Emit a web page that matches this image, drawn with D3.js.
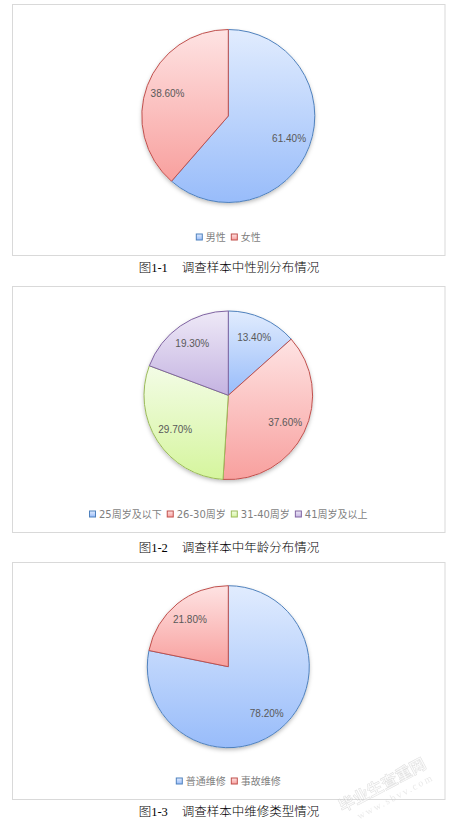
<!DOCTYPE html>
<html><head><meta charset="utf-8">
<script src="https://cdn.jsdelivr.net/npm/d3@7"></script>
<style>body{margin:0;background:#fff}svg{display:block}</style>
</head><body>
<svg id="c" width="454" height="825"></svg>
<script>
// ---- data ----
const genderCats = ["男性", "女性"];
const genderVals = [61.4, 38.6];
const ageCats = ["25周岁及以下", "26-30周岁", "31-40周岁", "41周岁及以上"];
const ageVals = [13.4, 37.6, 29.7, 19.3];
const repairCats = ["普通维修", "事故维修"];
const repairVals = [78.2, 21.8];
const captions = [
  ["1-1", "调查样本中性别分布情况"],
  ["1-2", "调查样本中年龄分布情况"],
  ["1-3", "调查样本中维修类型情况"]
];

const palette = [
  {top:"#e1ecfe", bot:"#98bcfa", stroke:"#4f81bd"},
  {top:"#fee3e3", bot:"#f8a09e", stroke:"#c0504d"},
  {top:"#f3fce6", bot:"#d5f59d", stroke:"#9bbb59"},
  {top:"#eee9f7", bot:"#c4b3e1", stroke:"#8064a2"}
];

const svg = d3.select("#c");
const defs = svg.append("defs");
palette.forEach((p,i)=>{
  const g = defs.append("linearGradient").attr("id","g"+i)
    .attr("x1",0).attr("y1",0).attr("x2",0).attr("y2",1);
  g.append("stop").attr("offset","0%").attr("stop-color",p.top);
  g.append("stop").attr("offset","100%").attr("stop-color",p.bot);
});
const f = defs.append("filter").attr("id","sh").attr("x","-20%").attr("y","-20%").attr("width","140%").attr("height","140%");
f.append("feDropShadow").attr("dx",0).attr("dy",2).attr("stdDeviation",2)
  .attr("flood-color","#000").attr("flood-opacity",0.28);

const charts = [
  {cats:genderCats, vals:genderVals, box:[12.5,4.5,432.5,251], cx:228.3, cy:116, r:86.5, ly:237.5, capY:268},
  {cats:ageCats, vals:ageVals, box:[12.5,286.5,432.5,246], cx:228.3, cy:395.3, r:84.3, ly:514.5, capY:548},
  {cats:repairCats, vals:repairVals, box:[12.5,562.5,432.5,237], cx:228.3, cy:666.7, r:81, ly:781.5, capY:811.5}
];

const pie = d3.pie().sort(null).value(d=>d);

charts.forEach((c,ci)=>{
  svg.append("rect").attr("x",c.box[0]).attr("y",c.box[1]).attr("width",c.box[2]).attr("height",c.box[3])
    .attr("fill","#fff").attr("stroke","#d9d9d9").attr("stroke-width",1);

  const arcs = pie(c.vals);
  const arc = d3.arc().innerRadius(0).outerRadius(c.r);
  const labelArc = d3.arc().innerRadius(c.r*0.75).outerRadius(c.r*0.75);
  const g = svg.append("g").attr("transform",`translate(${c.cx},${c.cy})`);
  const shadow = g.append("g").attr("filter","url(#sh)");
  shadow.append("circle").attr("r",c.r).attr("fill","#fff");
  g.selectAll("path.s").data(arcs).join("path").attr("class","s")
    .attr("d",arc)
    .attr("fill",(d,i)=>`url(#g${i})`)
    .attr("stroke",(d,i)=>palette[i].stroke)
    .attr("stroke-width",1)
    .attr("stroke-linejoin","round");
  g.selectAll("text.l").data(arcs).join("text").attr("class","l")
    .attr("transform",d=>`translate(${labelArc.centroid(d)})`)
    .attr("text-anchor","middle").attr("dy","0.35em")
    .attr("font-family","'Liberation Sans', Arial, sans-serif")
    .attr("font-size",10).attr("fill","#595959")
    .text(d=>d.data.toFixed(2)+"%");

  // legend
  const lg = svg.append("g");
  let x = 0;
  c.cats.forEach((name,i)=>{
    const it = lg.append("g");
    it.append("rect").attr("x",0.5).attr("y",-3.5).attr("width",6).attr("height",6)
      .attr("fill",`url(#g${i})`).attr("stroke",palette[i].stroke).attr("stroke-width",1);
    const t = it.append("text").attr("x",10).attr("dy","0.35em")
      .attr("font-family","'DejaVu Sans','Noto Sans CJK SC',sans-serif")
      .attr("font-size",10).attr("fill","#7f7f7f").text(name);
    const w = 10 + t.node().getComputedTextLength();
    it.attr("transform",`translate(${x},0)`);
    x += w + 5;
  });
  const total = x - 5;
  lg.attr("transform",`translate(${c.cx - total/2},${c.ly})`);

  // caption
  const cap = svg.append("text").attr("x",229).attr("y",c.capY).attr("text-anchor","middle")
    .attr("dy","0.35em").attr("font-size",12.5).attr("fill","#000").attr("font-weight",300)
    .attr("font-family","'Noto Sans CJK SC',sans-serif");
  cap.append("tspan").text("图");
  cap.append("tspan").attr("font-family","'Liberation Serif',serif").attr("font-weight","normal").text(captions[ci][0]);
  cap.append("tspan").attr("dx",14).text(captions[ci][1]);
});

// watermark
const wm = svg.append("g").attr("transform","translate(385,790) rotate(-28)").attr("opacity",0.45);
wm.append("text").attr("text-anchor","middle").attr("font-size",16).attr("font-weight","bold")
  .attr("font-family","'Noto Sans CJK SC',sans-serif").attr("fill","#f7f7f7").attr("stroke","#b5b5b5").attr("stroke-width",0.5)
  .text("毕业生查重网");
wm.append("text").attr("text-anchor","middle").attr("y",14).attr("x",6).attr("font-size",10)
  .attr("font-family","'Liberation Serif',serif").attr("fill","#cfcfcf").attr("letter-spacing",2)
  .text("www.sbvv.com");
</script>
</body></html>
